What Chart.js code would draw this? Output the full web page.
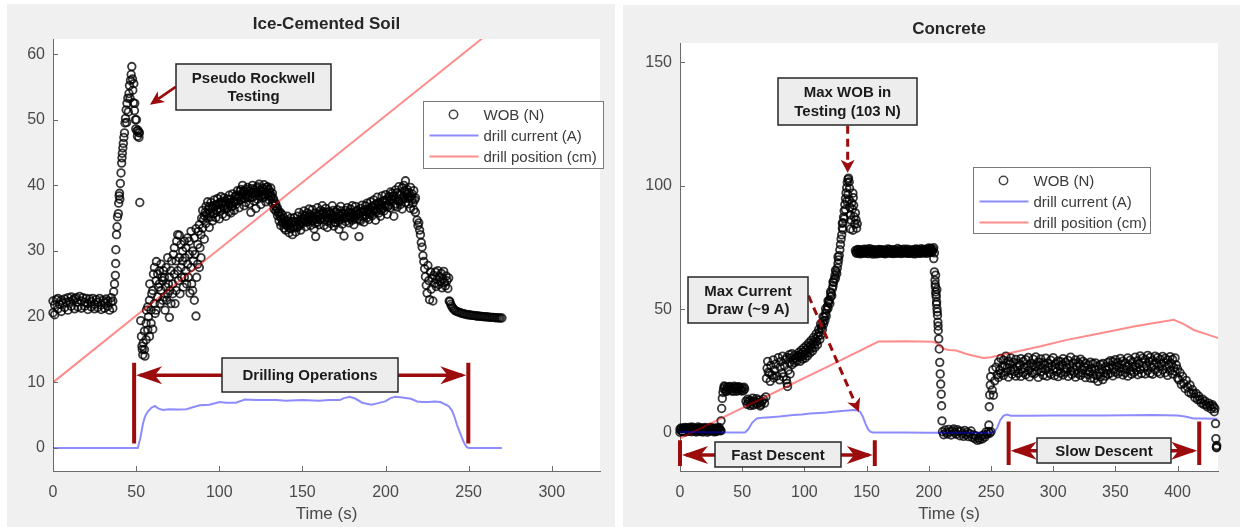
<!DOCTYPE html>
<html>
<head>
<meta charset="utf-8">
<script src="https://cdn.jsdelivr.net/npm/chart.js@4.4.1/dist/chart.umd.min.js"></script>
<style>
  body { margin:0; background:#fff; width:1246px; height:527px; overflow:hidden; position:relative; }
  .panel { position:absolute; background:#f0f0f0; }
  #p1 { left:7px; top:4px; width:608px; height:523px; }
  #p2 { left:623px; top:5px; width:617px; height:522px; }
  canvas { display:block; }
</style>
</head>
<body>
<div class="panel" id="p1"><canvas id="c1"></canvas></div>
<div class="panel" id="p2"><canvas id="c2"></canvas></div>
<script>
// ---- ICE-CEMENTED SOIL (left) : [time s, value] ----
const iceWob = [
  [0,20.6],[0,22.4],[1,21.8],[1,20.3],[2,22.6],[3,21.2],[3,22.8],[4,21.9],[5,22.5],[5,20.8],[6,22.1],[7,21.4],[7,22.7],[8,22.2],[9,21],[9,22.9],[10,22.3],[11,21.6],[11,23],[12,22.5],[13,21.2],[13,22.8],[14,22.9],[15,22.2],[15,21.5],[16,23.1],[17,22.4],[17,21.3],[18,22.9],[19,22.2],[19,21.6],[20,22.8],[21,22],[21,21.1],[22,22.7],[23,22.3],[23,21.5],[24,22.8],[25,21.9],[25,21.2],[26,22.6],[27,22.2],[27,21.4],[28,22.8],[29,21.8],[29,21.1],[30,22.5],[31,22.1],[31,21.3],[32,22.7],[33,21.6],[33,22.4],[34,21],[35,22.2],[35,22.9],[36,21.3],[36,22.4],
  [36.5,23.8],[37,25],[37.5,26.3],[37.7,28.1],[37.8,30.2],[38.2,32.5],[38.5,33.7],[38.8,35.2],[39.3,35.7],[39.5,37.3],[39.8,38.4],[40,38.8],[40.2,37.9],[40.5,40.3],[40.9,41.9],[41.3,43.4],[41.5,44.2],[41.7,44.9],[42,45.7],[42.3,46.4],[42.6,47.3],[43,48],[43.3,49.5],[43.6,50.2],[44,51.5],[44.3,49.6],[44.5,52.5],[45,53.3],[45.3,51.2],[45.7,54],[46,55.2],[46.3,53.3],[46.6,56],[47,56.9],[47.4,58.1],[47.8,56.2],[48,54.5],[48.3,52.6],[48.6,55.5],[49,51.4],[49.2,52.5],[49.5,50],[49.8,48.6],[50.2,50],[50.5,48.3],[50.8,47.5],[51.1,48.4],[51.5,48.1],[52,48],[51.7,47.3],[52.2,37.4],
  [52.8,19.4],[53.2,17],[53.5,15.5],[53.7,15],[54,14.2],[54.3,16],[55,15],[55,17.8],[55.3,14],[56,16.5],[56,19],[56.2,21],[57,18],[57,21.5],[57.4,20],[58,17],[58,22.5],[58.2,25],[59,19],[59,21],[59.4,23.5],[60,18.1],[60,24],[60.4,26.5],[61,22],[61,27.5],[61.4,20.5],[62,21],[62,25.5],[62.2,28.4],[63,23],[63,26.5],[63.4,24.5],[64,27],[64,25],[64.4,22],[65,24],[65,28],[65.4,26],[66,25.5],[66,22.5],[66.4,27],[67,23],[67,26],[67.4,21],[68,24.5],[68,27.5],[68.4,22.5],[69,23.5],[69,29],[69.4,25],[70,19.9],[70,26],[70.4,24],[71,22],[71,27],[71.4,28.5],[72,25],[72,23.5],[72.4,29.5],[73,26.5],[73,30.5],[73.4,22],[74,24],[74,28.5],[74.4,31.5],[75,27],[75,32.5],[75.4,25.5],[76,29],[76,32.4],[76.4,23.5],[77,31],[77,27.5],[77.4,26],[78,28.5],[78,30],[78.4,24.5],[79,26],[79,31.5],[79.4,29],[80,30.5],[80,27],[80.4,25],[81,32],[81,28],[81.4,26],[82,29.5],[82,31.5],[82.4,23.6],[83,33],[83,27.5],[83.4,25],[84,30],[84,24],[84.4,28.5],[85,32],[85,22.5],[85.4,29.5],[86,20.1],[86,33.4],[86.4,26],[87,31],[87,28],[87.4,33],[88,27.5],[88,34],[88.4,30.5],[89,32.5],[89,29],[89.4,35],
  [90,33.5],[90,36.2],[91,35.4],[91,31.8],[92,36.8],[92,34.2],[93,35],[93,37.5],[94,36.8],[94,33.6],[95,37.4],[95,35.2],[96,34.6],[96,36.9],[97,37.8],[97,35.8],[98,35.1],[98,37.1],[99,36.4],[99,38],[100,34.9],[100,37.3],[101,36.2],[101,38.3],[102,35.6],[102,37.6],[103,38.1],[103,36.4],[104,35.3],[104,37.2],[105,37.9],[105,36.6],[106,36],[106,38.5],[107,37.3],[107,35.8],[108,38.7],[108,36.9],[109,37.5],[109,36.2],
  [110,38.4],[110,37.1],[111,39.2],[111,37.6],[112,36.6],[112,38.3],[113,39.4],[113,37.8],[114,38.1],[114,40],[115,36.9],[115,39],[116,38.6],[116,37.4],[117,39.7],[117,38.2],[118,37.2],[118,39.1],[119,38.8],[119,35.9],[120,40],[120,38.2],[121,37.6],[121,39.3],[122,38.9],[122,36.5],[123,39.8],[123,37.9],[124,38.4],[124,40.2],[125,37.1],[125,39],[126,39.6],[126,38.1],[127,38.7],[127,40.1],[128,37.5],[128,39.4],[129,38.9],[129,39.8],[130,39.3],[130,37.8],[131,38.2],[131,39.6],[132,38.8],[132,37.3],
  [133,37.6],[133,36.4],[134,36.1],[134,37.2],[135,35.4],[135,36.6],[136,34.6],[136,36],[137,35.8],[137,33.9],[138,34.2],[138,35.5],[139,33.5],[139,35],[140,34.6],[140,33.2],[141,35.3],[141,33.8],[142,34],[142,32.8],[143,33.4],[143,35],[144,34.5],[144,32.5],[145,33.8],[145,35.1],[146,32.9],[146,34.4],[147,35.3],[147,33.6],[148,34.1],[148,35.9],[149,33.2],[149,34.8],
  [150,35.5],[150,34.2],[151,34.6],[151,36.1],[152,33.7],[152,35.3],[153,35.8],[153,34.4],[154,34.9],[154,36.4],[155,33.9],[155,35.2],[156,36.3],[156,34.6],[157,35],[157,33.4],[158,32.2],[158,35.8],[159,34.4],[159,36.6],[160,35.6],[160,34],[161,34.8],[161,36.2],[162,36.9],[162,35.1],[163,33.9],[163,35.7],[164,35.3],[164,36.5],[165,34.5],[165,33.6],[166,36],[166,35],[167,34.2],[167,35.8],[168,35.5],[168,36.9],[169,33.8],[169,34.9],
  [170,35.9],[170,34.3],[171,36.3],[171,35.1],[172,34.6],[172,33.3],[173,35.4],[173,36.8],[174,34.1],[174,35.7],[175,32.3],[175,35],[176,36.2],[176,34.5],[177,35.1],[177,36.6],[178,34.3],[178,35.8],[179,36.4],[179,35.2],[180,34.7],[180,36.9],[181,35.6],[181,34],[182,36.8],[182,35.3],[183,34.9],[183,36.2],[184,32.2],[184,35.7],[185,36.5],[185,34.6],[186,35.2],[186,37],[187,34.4],[187,36.1],[188,36.9],[188,35.5],[189,35.1],[189,37.3],
  [190,36.3],[190,34.8],[191,37.5],[191,35.9],[192,35.4],[192,36.8],[193,37.8],[193,36.2],[194,34.7],[194,37.1],[195,36.5],[195,38.2],[196,35.8],[196,37.4],[197,37],[197,35.3],[198,38.4],[198,36.6],[199,36.1],[199,37.7],[200,38.6],[200,36.9],[201,35.6],[201,37.9],[202,38.3],[202,37],[203,36.6],[203,39],[204,37.8],[204,38.8],[205,35.3],[205,38.4],[206,39.3],[206,37.2],[207,36.7],[207,38.9],[208,39.8],[208,37.6],[209,37.1],[209,38.5],
  [210,39.6],[210,36.4],[211,38.3],[211,40],[212,40.7],[212,37.4],[213,38.6],[213,39.4],[214,37.2],[214,38.9],[215,39.7],[215,36.5],[216,37.9],[216,38.7],[217,36.3],[217,39.2],[218,38.1],[218,35.9],
  [90.5,34.8],[91.5,35.9],[92.5,35.6],[93.5,36.3],[94.5,35.8],[95.5,36.5],[96.5,35.7],[97.5,36.8],[98.5,36.2],[99.5,37.1],[100.5,36.5],[101.5,37.4],[102.5,36.9],[103.5,37.6],[104.5,36.4],[105.5,37.3],[106.5,37.9],[107.5,36.8],[108.5,37.6],[109.5,38.3],
  [110.5,37.9],[111.5,38.5],[112.5,39.1],[113.5,38.6],[114.5,39.2],[115.5,38],[116.5,39.4],[117.5,38.7],[118.5,38.1],[119.5,39.5],[120.5,38.9],[121.5,38.4],[122.5,39.6],[123.5,38.8],[124.5,39.3],[125.5,38.5],[126.5,39.1],[127.5,38.3],[128.5,39.7],[129.5,38.6],
  [130.5,38.9],[131.5,38.4],[132.5,38],[133.5,36.9],[134.5,36.5],[135.5,35.8],[136.5,35.3],[137.5,34.9],[138.5,34.4],[139.5,34.2],[140.5,34],[141.5,34.6],[142.5,33.5],[143.5,34.2],[144.5,33.6],[145.5,34.5],[146.5,33.7],[147.5,34.6],[148.5,33.9],[149.5,34.5],
  [150.5,34.9],[151.5,35.4],[152.5,34.5],[153.5,35.1],[154.5,35.6],[155.5,34.7],[156.5,35.4],[157.5,34.2],[158.5,34.8],[159.5,35.3],[160.5,34.8],[161.5,35.5],[162.5,36],[163.5,34.8],[164.5,35.9],[165.5,35.1],[166.5,35.6],[167.5,34.9],[168.5,36.2],[169.5,34.4],
  [170.5,35.2],[171.5,35.7],[172.5,34.8],[173.5,36.1],[174.5,34.9],[175.5,35.6],[176.5,35.3],[177.5,35.9],[178.5,35],[179.5,35.8],[180.5,35.5],[181.5,34.9],[182.5,36],[183.5,35.6],[184.5,34.8],[185.5,35.9],[186.5,36.1],[187.5,35.3],[188.5,36.3],[189.5,36],
  [190.5,35.6],[191.5,36.7],[192.5,36.1],[193.5,37],[194.5,36],[195.5,37.3],[196.5,36.6],[197.5,36.2],[198.5,37.5],[199.5,36.9],[200.5,37.7],[201.5,36.8],[202.5,37.6],[203.5,37.9],[204.5,38.3],[205.5,36.9],[206.5,38.2],[207.5,37.8],[208.5,38.6],[209.5,37.8],
  [210.5,38],[211.5,39.2],[212.5,39],[213.5,38],[214.5,38.1],[215.5,38.4],[216.5,37.3],[217.5,37.8],
  [219,34.7],[219.5,33.9],[220,34.3],[220.5,33.2],[221,32.5],[221.5,31.3],[222,30.6],[222.5,29.3],[223,28.4],[223.5,27.3],[224,26.1],[224.5,24.8],[225,23.6],[225.5,27.8],[226,25.5],[226.5,22.6],[227,26.8],[227.5,24.2],[228,25.9],[228.5,22.4],
  [229,26.3],[229.5,25.1],[230,26.8],[230.5,24.6],[231,25.7],[231.5,27],[232,24.9],[232.5,26.1],[233,25.3],[233.5,26.6],[234,24.4],[234.5,25.8],[235,26.9],[235.5,25.2],[236,24.7],[236.5,26.2],[237,25.5],[237.5,24.3],[238,25.9],[238.3,22.4],
  [238.7,22.3],[239.2,21.9],[239.8,21.6],[240.5,21.3],[241.2,21.1],[242,20.9],[243,20.8],[244,20.7],[245,20.6],[246,20.5],[247,20.45],[248,20.4],[249,20.3],[250,20.3],[251,20.25],[252,20.2],[253,20.2],[254,20.15],[255,20.1],[256,20.1],[257,20.05],[258,20.05],[259,20],[260,20],[261,19.95],[262,19.95],[263,19.9],[264,19.9],[265,19.9],[266,19.85],[267,19.85],[268,19.8],[269,19.8],[270,19.8]
];
const iceCurrent = [
  [0,0],[10,0],[20,0],[30,0],[40,0],[51,0],[52.5,1.5],[54.2,3.8],[55.5,4.9],[57.2,5.6],[59,6.1],[61.2,6.4],[63.5,6],[66.2,5.8],[70,5.9],[75,5.85],[80.3,5.9],[84,6.2],[88.3,6.5],[94,6.6],[100.3,7],[104,6.9],[110,6.9],[115.4,7.4],[122,7.3],[128,7.3],[134.5,7.3],[140,7.2],[150,7.3],[160,7.2],[166,7.3],[172.5,7.3],[175,7.6],[178.4,7.8],[182,7.5],[186,6.9],[191.5,6.6],[195,6.8],[199.8,7.1],[203,7.6],[205.8,7.8],[210,7.7],[215.3,7.5],[219,7.1],[222.4,7],[226,7],[229.5,7.1],[233,7],[237.9,6.4],[240,5.7],[241.4,4.8],[243,3.5],[245,2.2],[247,0.9],[248.6,0.2],[250,0],[260,0],[270,0]
];
const icePosition = [[0,10],[100,30.3],[200,50.6],[270,64.8]];
const iceTimeTicks = [0, 50, 100, 150, 200, 250, 300];
const iceValueTicks = [0, 10, 20, 30, 40, 50, 60];

// ---- CONCRETE (right) ----
const concWob = [
  [0,1.5],[0,0.2],[1,1.9],[2,0.6],[3,1.4],[4,2.1],[5,0.4],[6,1.2],[7,1.8],[8,0.7],[9,1.5],[10,2.2],[11,0.9],[12,1.3],[13,0.3],[14,1.7],[15,1.1],[16,2],[17,0.5],[18,1.4],[19,1.9],[20,0.8],[21,1.6],[22,0.2],[23,1.2],[24,2.1],[25,0.9],[26,1.5],[27,0.4],[28,1.8],[29,1.1],[30,0.6],[31,1.7],[32,1.3],[33,0.8],
  [0.5,1],[1.5,0.5],[2.5,1.8],[3.5,0.3],[4.5,1.3],[5.5,2],[6.5,0.6],[7.5,1.5],[8.5,2.2],[9.5,0.4],[10.5,1.1],[11.5,1.9],[12.5,0.7],[13.5,1.6],[14.5,2.3],[15.5,0.5],[16.5,1.2],[17.5,1.8],[18.5,0.3],[19.5,1.4],[20.5,2.1],[21.5,0.9],[22.5,1.5],[23.5,0.6],[24.5,1.3],[25.5,2],[26.5,0.8],[27.5,1.6],[28.5,0.4],[29.5,1.9],[30.5,1.2],[31.5,2.1],[32.5,0.9],
  [33,4.8],[33.5,9.8],[34,13.9],[34.5,16.3],
  [35,17.8],[36,18.6],[36.5,16.9],[37,17.5],[38,18.3],[39,17.2],[40,18.7],[41,17.6],[42,18.1],[43,16.8],[44,18.4],[45,17.7],[46,18.5],[47,17.1],[48,18],[49,17.4],[50,18.2],[51,17],[52,17.7],
  [35.5,18.9],[37.5,16.7],[39.5,18.5],[41.5,16.9],[43.5,18.8],[45.5,16.8],[47.5,18.6],[49.5,16.9],[51.5,18.4],
  [53,12.8],[54,11.5],[54.5,13.6],[55,12.4],[56,13.1],[56.5,11],[57,11.8],[58,12.6],[58.5,14],[59,11.2],[60,12.9],[61,12.1],[61.5,13.8],[62,11.6],[63,13.2],[64,12.3],[64.5,10.8],[65,11.4],[66,12.7],[67,13.6],[68,12],[69,14.5],
  [69.5,22],[70,26.1],[70.5,28.9],[71,24.5],[72,24.1],[72.5,20.8],[73,27.2],[74,23.3],[75,29.5],[75.5,22.2],[76,25.4],[77,27.8],[78,23],[79,30.4],[80,21.4],[80.5,26.5],[81,28.8],[82,24.2],[82.5,31],[83,22.6],[84,27.1],[85,29.6],[85.5,21.4],[86,20],[86.5,18.7],[87,25.3],[88,28.4],[88.5,23.8],[89,30.3],[90,27.6],[91,29.5],[92,28.4],
  [86,30.5],[88,31.6],[90,32],[92,31.3],
  [93,30.4],[94,29.1],[95,31.2],[96,30.6],[97,31.8],[98,30.9],[99,32.6],[100,31.7],[101,33.5],[102,32.4],[103,34.4],[104,33.6],[105,35.3],[106,34.4],[107,36.5],[108,35.8],[109,37.9],[110,37],[111,39.2],[112,40.6],[113,39.5],[113.5,42.4],[114,43.4],[114.5,41.8],[115,45.1],[115.5,44],[116,46.8],[116.5,45.5],[117,48.3],[117.5,47.2],[118,49.7],[118.5,51.2],[119,50.4],[119.5,52.8],[120,53.6],[120.5,52.3],[121,55],[121.5,56.4],[122,55.5],[122.5,58.3],[123,59.4],[123.5,60.9],[124,62.1],[124.5,63.6],[125,62.5],[125.5,65.2],[126,64.4],[126.5,66.7],[127,68.5],[127.5,70],[128,71.8],[128.5,74.1],[129,76.2],[129.5,78.4],[130,80.1],[130.5,82.9],[131,85],[131.5,87.3],[132,89.8],[132.5,92.4],[133,94.8],[133.5,97.1],[134,99.2],[134.5,101.3],[135,102.6],[135.5,103.1],[136,101.5],[136.3,99],
  [95.5,32.5],[97.5,33.4],[99.5,34.3],[101.5,35.2],[103.5,36.3],[105.5,37.4],[107.5,38.6],[109.5,40],[111.5,41.8],[113,44],[115,47],[117,50.2],[119,53.4],[121,57],[123,61],[125,65.8],[127,71.2],
  [96.5,28.9],[98.5,29.8],[100.5,30.2],[102.5,31.1],[104.5,32.3],[106.5,33.1],[108.5,34.5],[110.5,35.6],[112.5,37.8],
  [130.5,84.8],[131,82.2],[132,86.6],[133,90.4],[134,93.8],[135,96.4],[136,94.2],[136.5,91.3],[137,88.2],[137.5,86.1],[138,93],[138.5,90.6],[139,97],[139.3,95.2],[139.6,92.1],[140,87.4],[140.5,84.5],[141,89],[141.5,86.3],[142,82.8],[142.5,84.6],[137,82.5],[139,82],
  [141,73.8],[142,72.6],[143,74.2],[144,73.1],[145,72.4],[146,73.9],[147,72.8],[148,74.3],[149,73.2],[150,72.6],[151,73.8],[152,74.5],[153,72.9],[154,73.5],[155,72.3],[156,74.1],[157,73],[158,73.7],[159,72.5],[160,74.2],[161,73.3],[162,72.7],[163,74],[164,73.1],[165,72.4],[166,73.8],[167,74.4],[168,72.8],[169,73.5],[170,72.6],[171,74.1],[172,73.2],[173,72.7],[174,73.9],[175,74.6],[176,72.9],[177,73.4],[178,72.5],[179,74.2],[180,73.1],[181,72.8],[182,73.8],[183,74.3],[184,72.6],[185,73.5],[186,72.9],[187,74],[188,73.3],[189,72.4],[190,74.4],[191,73],[192,72.7],[193,73.9],[194,74.5],[195,72.8],[196,73.4],[197,74.1],[198,72.6],[199,73.7],[200,74.8],[201,73.2],[202,74.4],[203,73.6],[204,74.9],[204.5,72.8],
  [141.5,73.1],[142.5,73.9],[143.5,72.7],[144.5,74.1],[145.5,73.4],[146.5,72.6],[147.5,73.7],[148.5,72.9],[149.5,74.2],[150.5,73.3],[151.5,72.5],[152.5,73.6],[153.5,74.3],[154.5,72.8],[155.5,73.9],[156.5,73.2],[157.5,72.4],[158.5,74],[159.5,73.5],[160.5,72.8],[161.5,74.1],[162.5,73.6],[163.5,72.6],[164.5,73.9],[165.5,73.2],[166.5,72.7],[167.5,73.5],[168.5,74.2],[169.5,72.9],[170.5,73.8],[171.5,72.5],[172.5,74],[173.5,73.4],[174.5,72.6],[175.5,73.3],[176.5,74.1],[177.5,72.8],[178.5,73.7],[179.5,72.9],[180.5,74.3],[181.5,73.5],[182.5,72.6],[183.5,73.1],[184.5,74],[185.5,72.7],[186.5,73.8],[187.5,72.5],[188.5,74.2],[189.5,73.6],[190.5,72.8],[191.5,74.1],[192.5,73.4],[193.5,72.6],[194.5,73.7],[195.5,74.2],[196.5,72.9],[197.5,73.3],[198.5,74.4],[199.5,72.8],[200.5,73.6],[201.5,74.6],[202.5,73.1],[203.5,74.3],
  [204,70.5],[204.5,65.1],[205,61.7],[205.3,59],[205.6,57],[206,55],[206.3,53],[206.6,50.2],[207,47.5],[207.3,44.8],[207.6,41.4],[208,38],[208.4,33.9],[208.8,28.5],[209.2,23.8],[209.6,19.7],[210,15.6],[210.3,10.9],[210.6,4.8],[205.2,60.1],[205.8,56],[206.2,52],[206.8,48.9],[207.5,43.2],[205.5,63.8],[206.5,58],
  [211,0.4],[212,-0.8],[213,1.1],[214,0.2],[215,-0.5],[216,1.3],[217,0.3],[218,-0.9],[219,0.8],[220,1.5],[221,0.1],[222,-0.6],[223,1.2],[224,0.5],[225,-1.2],[226,0.6],[227,-0.3],[228,-1.5],[229,0.9],[230,-0.8],[231,0.2],[232,-1.6],[233,-0.4],[234,0.7],[235,-1.9],[236,-0.9],[237,-2.4],[238,-1.3],[239,-3.1],[240,-2.2],[241,-2.8],[242,-1.4],[243,-2.5],[244,-0.9],[245,-1.8],[246,0.3],[247,-0.6],[248,0.5],[249,-0.2],[250,0.4],
  [248.3,3.1],[248.6,10.5],[249,15.3],[249.4,19.3],[249.8,22.7],[251,17.3],[252,15.2],[251.5,25.5],[253,21],[254,26.5],[255,23.4],
  [256,28.6],[256,22.4],[257,25.3],[258,30.1],[258,24],[259,26.8],[260,23.2],[260,29.4],[261,27.1],[262,31],[262,24.6],[263,26.3],[264,22.5],[264,29],[265,27.8],[266,25.2],[266,30.3],[267,23.7],[268,28.5],[268,26],[269,24.8],[270,29.7],[270,22.9],[271,26.6],[272,24.1],[272,28.2],[273,27.4],[274,22.8],[274,30],[275,25.7],[276,28.9],[276,24.4],[277,26.2],[278,23.5],[278,29.6],[279,27],
  [280,25.1],[280,30.5],[281,22.6],[282,28.1],[282,26.4],[283,24.2],[284,29.8],[284,27.3],[285,23.9],[286,26.8],[286,30.7],[287,25],[288,22.4],[288,28.7],[289,27.2],[290,24.6],[290,29.9],[291,26.1],[292,23.3],[292,28.4],[293,27.6],[294,25.4],[294,30.2],[295,22.9],[296,28.3],[296,26.5],[297,24.3],[298,29.4],[298,23.6],[299,27.1],
  [300,25.6],[300,30.4],[301,23.1],[302,28],[302,26.2],[303,24.7],[304,29.1],[304,22.7],[305,26.9],[306,24.2],[306,28.8],[307,27.5],[308,23.4],[308,30],[309,25.8],[310,28.6],[310,24.5],[311,26.3],[312,22.8],[312,29.3],[313,27.4],[314,25],[314,30.6],[315,23.6],[316,28.2],[316,26.1],[317,24.4],[318,29.5],[318,22.5],[319,26.7],
  [320,24],[320,28.4],[321,27.7],[322,23.2],[322,29.8],[323,25.5],[324,28.9],[324,24.1],[325,26.6],[326,22.3],[326,28.1],[327,25.2],[328,27.4],[328,23.6],[329,24.7],[330,28.6],[330,22.1],[331,26],[332,23.8],[332,27.9],[333,21.9],[334,25.6],[334,28.3],[335,23.1],[336,26.9],[336,20.8],[337,24.5],[338,22.6],[338,27.6],[339,25.8],
  [340,21.5],[340,28],[341,24.2],[342,26.7],[342,22.9],[343,25.3],[344,28.5],[344,23.7],[345,26.4],[346,24.1],[346,29.2],[347,27.3],[348,23],[348,28.8],[349,25.7],[350,29.6],[350,24.6],[351,27],[352,23.9],[352,28.4],[353,26.2],[354,30.1],[354,24.8],[355,27.6],[356,23.4],[356,29],[357,25.9],[358,28.3],[358,24.3],[359,26.8],
  [360,22.9],[360,30.3],[361,27.3],[362,25.1],[362,29.4],[363,23.7],[364,28.7],[364,26.5],[365,24.4],[366,30.6],[366,27.1],[367,25.3],[368,23.5],[368,29.2],[369,27.8],[370,31.1],[370,25.6],[371,24],[372,28.4],[372,30.2],[373,26.4],[374,23.8],[374,29.6],[375,27.1],[376,31.3],[376,25.2],[377,28.8],[378,24.1],[378,30.5],[379,26.6],
  [380,29.3],[380,23.7],[381,27.5],[382,31],[382,25.4],[383,28.2],[384,24.6],[384,30.4],[385,26.9],[386,29.7],[386,23.9],[387,27.9],[388,30.9],[388,25.5],[389,28.4],[390,24.3],[390,30.1],[391,26.7],[392,29.5],[392,23.2],[393,27.6],[394,30.8],[394,25.1],[395,28],[396,23.8],[396,29.7],[397,26.3],[398,30.3],[398,24.9],[399,27.4],[400,22.2],[400,25.8],
  [401,21.4],[402,24.3],[403,19.6],[404,22.8],[405,20],[406,17.9],[407,21.2],[408,18.5],[409,16.4],[410,19.3],[411,15.8],[412,17.4],[413,16],[414,14.2],[415,15.9],[416,13.4],[417,14.8],[418,13.3],[419,12.1],[420,13.6],[421,11.5],[422,12.8],[423,11.2],[424,10.4],[425,12],[426,10.9],[427,9.6],[428,11.3],[429,10.5],[429.5,8.5],[430,9.8],
  [430.5,3.7],[430.8,-2.4],[431.2,-5.8],[431.5,-5.2],[431.3,-6.1]
];
const concCurrent = [
  [0,0.3],[20,0.2],[40,0.1],[52.3,0.1],[55,1.5],[58,4],[61.7,5.8],[66,6.1],[72.4,6.3],[80,6.6],[91,7.2],[98,7.4],[104.6,7.8],[112,8],[118,8.2],[123.3,8.5],[130,8.8],[135,9],[139.4,9.2],[142,9.1],[144.8,8.5],[147,6.5],[149,3.8],[151,1.5],[153,0.4],[155,0.1],[180,0.1],[200,0],[230,0],[250,0],[253,0.5],[255,2],[257.4,5.1],[260,6.8],[262.8,7.4],[266,6.9],[280,6.9],[300,7],[320,7],[340,7],[360,7.1],[380,7.2],[400,7],[406,6.6],[413,5.8],[420,5.8],[432,5.7]
];
const concPosition = [
  [0,-2.3],[40,7.5],[80,17.3],[120,27.1],[159.5,36.9],[180,37],[203.7,36.8],[207,36],[210,34.5],[213.8,33.7],[217,33.5],[222,33.3],[229.8,32],[236,31.2],[244,30.3],[250,30.6],[256,31.3],[270,32.8],[290,35],[311,37.6],[330,39.5],[350,41.5],[364.7,43],[380,44.3],[397,45.7],[405,44],[413,41.6],[425,39.6],[433,38.3]
];
const concTimeTicks = [0, 50, 100, 150, 200, 250, 300, 350, 400];
const concValueTicks = [0, 50, 100, 150];

// ---- annotations (data coordinates) ----
const iceBoxes = [
  { text: ['Pseudo Rockwell', 'Testing'], from: [73.8, 58.5], to: [167.2, 51.5] },
  { text: ['Drilling Operations'], from: [101.8, 13.7], to: [207.4, 8.6] }
];
const iceArrows = [{ from: [73.8, 55.0], to: [58.3, 52.3], dashed: false }];
const iceSpans = [{ t1: 48.8, t2: 249.8, v: 11.1, low: 0.7, high: 13 }];
const iceLegend = { from: [222.6, 52.9], to: [330.9, 42.6] };

const concBoxes = [
  { text: ['Max WOB in', 'Testing (103 N)'], from: [79.1, 143.7], to: [190.9, 124.7] },
  { text: ['Max Current', 'Draw (~9 A)'], from: [6.8, 63], to: [103.3, 44.3] },
  { text: ['Fast Descent'], from: [27.8, -3.6], to: [129.4, -13.8] },
  { text: ['Slow Descent'], from: [287.2, -2], to: [394.9, -12.4] }
];
const concArrows = [
  { from: [134.8, 124.3], to: [134.8, 105.3], dashed: true },
  { from: [103.3, 55.5], to: [143.8, 8.5], dashed: true }
];
const concSpans = [
  { t1: 0, t2: 156.6, v: -9, low: -13.5, high: -3 },
  { t1: 264.2, t2: 417.4, v: -7.3, low: -13.1, high: 4.5 }
];
const concLegend = { from: [235.5, 107.7], to: [378, 80.9] };

const FONT = "'Liberation Sans', Arial, Helvetica, sans-serif";
const DARK_RED = '#9c0c0c';
const AXIS_GREY = '#6b6b6b';
const TICK_GREY = '#4a4a4a';

function head(ctx, x0, y0, x1, y1, len, half) {
  const a = Math.atan2(y1 - y0, x1 - x0), c = Math.cos(a), s = Math.sin(a);
  const bx = x1 - c * len, by = y1 - s * len;
  const nx = x1 - c * len * 0.72, ny = y1 - s * len * 0.72;
  ctx.beginPath();
  ctx.moveTo(x1, y1);
  ctx.lineTo(bx - s * half, by + c * half);
  ctx.lineTo(nx, ny);
  ctx.lineTo(bx + s * half, by - c * half);
  ctx.closePath();
  ctx.fill();
  return [nx, ny];
}

function makeDecor(cfg) {
  return {
    id: 'decor',
    beforeDraw(chart) {
      const { ctx, chartArea: a } = chart;
      ctx.save();
      ctx.fillStyle = '#fff';
      ctx.fillRect(a.left, a.top, a.right - a.left, a.bottom - a.top);
      ctx.restore();
    },
    afterDatasetsDraw(chart) {
      const { ctx, chartArea: a } = chart;
      const X = v => chart.scales.x.getPixelForValue(v);
      const Y = v => chart.scales.y.getPixelForValue(v);
      ctx.save();

      // inward tick marks, MATLAB style
      ctx.strokeStyle = AXIS_GREY; ctx.lineWidth = 1;
      ctx.beginPath();
      chart.scales.x.ticks.forEach(t => {
        const p = Math.round(X(t.value)) + 0.5;
        ctx.moveTo(p, a.bottom); ctx.lineTo(p, a.bottom - 5);
      });
      chart.scales.y.ticks.forEach(t => {
        const p = Math.round(Y(t.value)) + 0.5;
        ctx.moveTo(a.left, p); ctx.lineTo(a.left + 5, p);
      });
      ctx.stroke();

      // double arrows with end bars
      ctx.strokeStyle = DARK_RED; ctx.fillStyle = DARK_RED;
      cfg.spans.forEach(s => {
        const x1 = X(s.t1), x2 = X(s.t2), y = Y(s.v);
        ctx.lineWidth = 4;
        ctx.beginPath();
        ctx.moveTo(x1, Y(s.high)); ctx.lineTo(x1, Y(s.low));
        ctx.moveTo(x2, Y(s.high)); ctx.lineTo(x2, Y(s.low));
        ctx.stroke();
        ctx.lineWidth = 3.5;
        ctx.beginPath(); ctx.moveTo(x1 + 6, y); ctx.lineTo(x2 - 6, y); ctx.stroke();
        head(ctx, x2, y, x1 + 2, y, 26, 9);
        head(ctx, x1, y, x2 - 2, y, 26, 9);
      });

      // pointer arrows
      cfg.arrows.forEach(ar => {
        const x0 = X(ar.from[0]), y0 = Y(ar.from[1]), x1 = X(ar.to[0]), y1 = Y(ar.to[1]);
        const len = ar.dashed ? 13 : 14, half = ar.dashed ? 7 : 6.5;
        const a2 = Math.atan2(y1 - y0, x1 - x0);
        const nx = x1 - Math.cos(a2) * len * 0.72, ny = y1 - Math.sin(a2) * len * 0.72;
        ctx.lineWidth = ar.dashed ? 3 : 2.6;
        ctx.setLineDash(ar.dashed ? [8, 5] : []);
        ctx.beginPath(); ctx.moveTo(x0, y0); ctx.lineTo(nx, ny); ctx.stroke();
        ctx.setLineDash([]);
        head(ctx, x0, y0, x1, y1, len, half);
      });

      // text boxes
      cfg.boxes.forEach(b => {
        const x1 = Math.round(X(b.from[0])), y1 = Math.round(Y(b.from[1]));
        const x2 = Math.round(X(b.to[0])), y2 = Math.round(Y(b.to[1]));
        ctx.fillStyle = '#ededed';
        ctx.fillRect(x1, y1, x2 - x1, y2 - y1);
        ctx.strokeStyle = '#262626'; ctx.lineWidth = 1.5;
        ctx.strokeRect(x1, y1, x2 - x1, y2 - y1);
        ctx.fillStyle = '#1b1b1b';
        ctx.font = 'bold 15px ' + FONT;
        ctx.textAlign = 'center'; ctx.textBaseline = 'middle';
        const cx = (x1 + x2) / 2, cy = (y1 + y2) / 2;
        b.text.forEach((line, i) => ctx.fillText(line, cx, cy + (i - (b.text.length - 1) / 2) * 18.5 + 1));
      });

      // legend
      const lx1 = Math.round(X(cfg.legend.from[0])) + 0.5, ly1 = Math.round(Y(cfg.legend.from[1])) + 0.5;
      const lx2 = Math.round(X(cfg.legend.to[0])) + 0.5, ly2 = Math.round(Y(cfg.legend.to[1])) + 0.5;
      ctx.fillStyle = '#fff';
      ctx.fillRect(lx1, ly1, lx2 - lx1, ly2 - ly1);
      ctx.strokeStyle = '#7a7a7a'; ctx.lineWidth = 1;
      ctx.strokeRect(lx1, ly1, lx2 - lx1, ly2 - ly1);
      const rows = [13, 34, 55];
      ctx.font = '15px ' + FONT;
      ctx.textAlign = 'left'; ctx.textBaseline = 'middle';
      chart.data.datasets.forEach((ds, i) => {
        const y = ly1 + rows[i];
        if (i === 0) {
          ctx.strokeStyle = '#444'; ctx.lineWidth = 1.5;
          ctx.beginPath(); ctx.arc(lx1 + 30, y, 4.2, 0, Math.PI * 2); ctx.stroke();
        } else {
          ctx.strokeStyle = ds.borderColor; ctx.lineWidth = 2;
          ctx.beginPath(); ctx.moveTo(lx1 + 6, y); ctx.lineTo(lx1 + 55, y); ctx.stroke();
        }
        ctx.fillStyle = '#3a3a3a';
        ctx.fillText(ds.label, lx1 + 60, y + 1);
      });
      ctx.restore();
    },
    afterDraw(chart) {
      const { ctx, chartArea: a } = chart;
      ctx.save();
      ctx.font = 'bold 17px ' + FONT;
      ctx.fillStyle = '#262626';
      ctx.textAlign = 'center'; ctx.textBaseline = 'middle';
      ctx.fillText(cfg.title, (a.left + a.right) / 2, cfg.titleY);
      ctx.restore();
    }
  };
}

function panelChart(id, cfg) {
  return new Chart(document.getElementById(id), {
    type: 'scatter',
    data: {
      datasets: [
        { label: 'WOB (N)', data: cfg.wob.map(([x, y]) => ({ x, y })), pointStyle: 'circle',
          pointRadius: 3.8, pointBorderWidth: 1.8, pointBorderColor: 'rgba(0,0,0,0.78)',
          pointBackgroundColor: 'rgba(0,0,0,0)', showLine: false, order: 3, clip: false },
        { label: 'drill current (A)', data: cfg.current.map(([x, y]) => ({ x, y })), showLine: true,
          borderColor: 'rgba(0,0,255,0.45)', borderWidth: 2, pointRadius: 0, order: 1 },
        { label: 'drill position (cm)', data: cfg.position.map(([x, y]) => ({ x, y })), showLine: true,
          borderColor: 'rgba(255,0,0,0.45)', borderWidth: 2, pointRadius: 0, order: 2 }
      ]
    },
    options: {
      responsive: true, maintainAspectRatio: false, animation: false, events: [],
      layout: { padding: { top: cfg.padTop, right: cfg.padRight, left: 0, bottom: 0 } },
      plugins: { legend: { display: false }, tooltip: { enabled: false } },
      scales: {
        x: {
          type: 'linear', min: 0, max: cfg.xMax,
          afterBuildTicks: s => { s.ticks = cfg.xTicks.map(v => ({ value: v })); },
          afterFit: s => { s.height = cfg.xAxisH; },
          grid: { display: false, drawTicks: false },
          border: { display: true, color: AXIS_GREY, width: 1 },
          ticks: { color: TICK_GREY, font: { family: FONT, size: 16 }, padding: 12, maxRotation: 0, autoSkip: false },
          title: { display: true, text: 'Time (s)', color: TICK_GREY, font: { family: FONT, size: 17 }, padding: { top: 0, bottom: 2 } }
        },
        y: {
          type: 'linear', min: cfg.yMin, max: cfg.yMax,
          afterBuildTicks: s => { s.ticks = cfg.yTicks.map(v => ({ value: v })); },
          afterFit: s => { s.width = cfg.yAxisW; },
          grid: { display: false, drawTicks: false },
          border: { display: true, color: AXIS_GREY, width: 1 },
          ticks: { color: TICK_GREY, font: { family: FONT, size: 16 }, padding: 8 }
        }
      }
    },
    plugins: [makeDecor(cfg)]
  });
}

panelChart('c1', {
  title: 'Ice-Cemented Soil', titleY: 20.5,
  wob: iceWob, current: iceCurrent, position: icePosition,
  xTicks: iceTimeTicks, yTicks: iceValueTicks,
  xMax: 329, yMin: -3.5, yMax: 62.3,
  padTop: 35, padRight: 15, yAxisW: 46, xAxisH: 56,
  boxes: iceBoxes, arrows: iceArrows, spans: iceSpans, legend: iceLegend
});

panelChart('c2', {
  title: 'Concrete', titleY: 24.2,
  wob: concWob, current: concCurrent, position: concPosition,
  xTicks: concTimeTicks, yTicks: concValueTicks,
  xMax: 432.5, yMin: -15.5, yMax: 157.8,
  padTop: 38, padRight: 22, yAxisW: 57, xAxisH: 56,
  boxes: concBoxes, arrows: concArrows, spans: concSpans, legend: concLegend
});
</script>
</body>
</html>
